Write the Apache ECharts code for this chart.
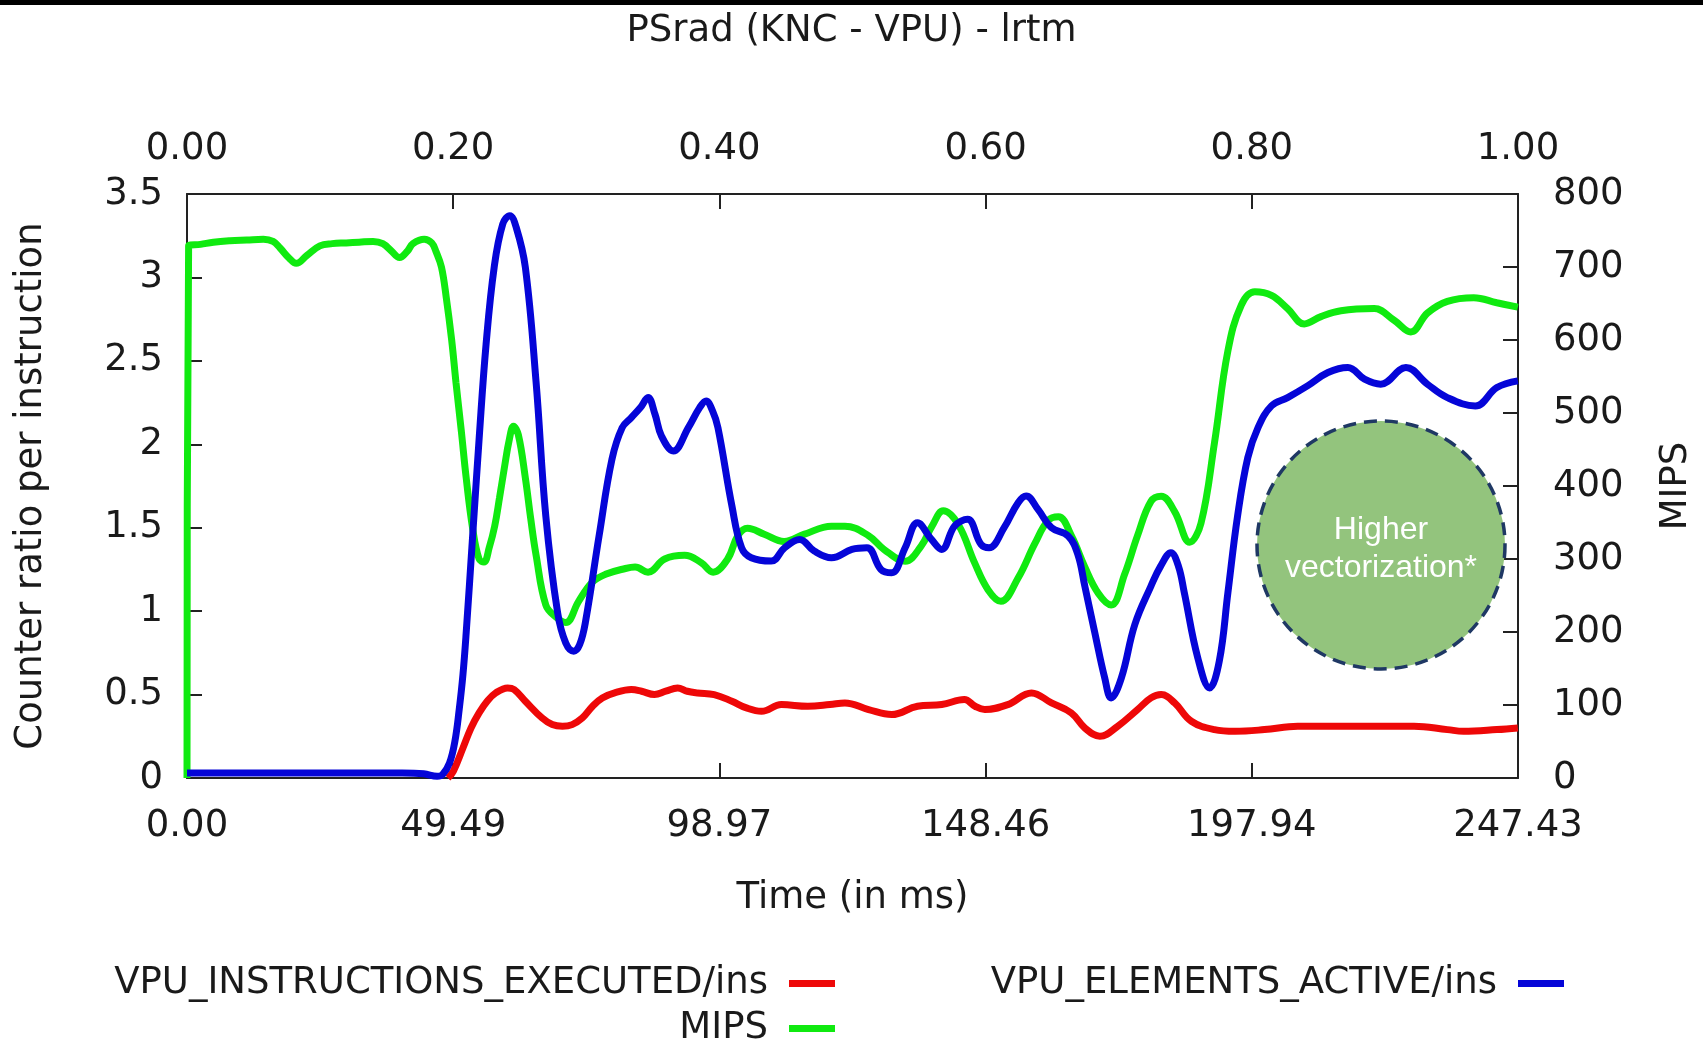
<!DOCTYPE html>
<html>
<head>
<meta charset="utf-8">
<script src="https://cdn.jsdelivr.net/npm/echarts@6/dist/echarts.min.js"></script>
<style>
html,body{margin:0;padding:0;background:#fff;}
#chart{width:1703px;height:1040px;}
</style>
</head>
<body>
<div id="chart"></div>
<script>
// ---- Data (time in ms, value) ----
const seriesNames = ['VPU_INSTRUCTIONS_EXECUTED/ins', 'MIPS', 'VPU_ELEMENTS_ACTIVE/ins'];

const vpuInstructionsExecuted = [
  [48.5,0],[49.5,0.04],[51.3,0.18],[52.8,0.3],[54.3,0.39],[55.8,0.46],[57.4,0.51],[59.6,0.54],[60.8,0.53],
  [62.9,0.46],[66,0.36],[67.9,0.32],[69.8,0.31],[71.6,0.32],[73.5,0.36],[75.4,0.43],[77.2,0.48],[79.5,0.51],
  [82.6,0.53],[84.5,0.52],[86.9,0.50],[89,0.52],[91.2,0.54],[93,0.52],[94.9,0.51],[98,0.50],[101.3,0.46],
  [104,0.42],[106.8,0.40],[110.5,0.44],[115.4,0.43],[119.5,0.44],[122.3,0.45],[126.7,0.41],[131,0.38],
  [135.8,0.43],[140.3,0.44],[144.5,0.47],[146.5,0.43],[148.3,0.41],[152.6,0.44],[157,0.51],[160.7,0.45],
  [164.4,0.39],[166.9,0.30],[169.7,0.25],[173,0.31],[176.7,0.41],[179.2,0.48],[181.1,0.50],[183.6,0.45],
  [186.7,0.34],[191,0.29],[194.8,0.28],[200.3,0.29],[206.5,0.31],[215.8,0.31],[228.1,0.31],[234.3,0.29],
  [237.3,0.28],[243.5,0.29],[247.4,0.30]
];

const mips = [
  [0,0],[0.3,729],[2.5,731],[4.9,734],[8,736],[11.1,737],[14.2,738],[16,735],[17.3,726],[19,712],[20.3,705],
  [22.3,716],[24.7,729],[27,732],[29.6,733],[32,734],[34.6,735],[36.4,732],[38,722],[39.5,713],[41,722],
  [42,732],[44.1,738],[45.5,733],[46.3,721],[47.3,700],[48.2,658],[49.2,600],[50,542],[51,475],[51.9,411],
  [53.1,342],[54.3,300],[55.2,296],[56.2,316],[57.2,345],[58.1,384],[59,425],[59.9,463],[60.7,482],[61.6,470],
  [62.9,411],[63.9,355],[64.9,305],[66.7,237],[68.5,221],[70.4,213],[72.8,242],[75.3,268],[77.8,279],
  [81.5,287],[83.3,289],[85.7,282],[88.8,300],[92.5,305],[95.6,295],[97.8,282],[100.5,300],[102.4,332],
  [104.2,342],[107.3,334],[111,324],[114.8,334],[119.8,345],[122.3,345],[126.7,332],[129.6,313],[133.5,297],
  [136.5,318],[138.5,345],[140.6,366],[143.4,347],[146.4,295],[148.9,258],[151.3,242],[154.5,274],[157.6,321],
  [160.1,353],[162,358],[164.4,332],[166.9,289],[169.4,253],[171.8,237],[174.3,279],[176.7,332],[179.2,379],
  [181.1,386],[183.6,365],[186.4,323],[188.5,349],[191,459],[193.5,585],[196,648],[198.5,666],[201.6,661],
  [204.6,643],[207.7,622],[210.8,632],[214.5,640],[220.7,643],[224.4,627],[227.5,611],[230.6,637],[234.3,653],
  [239.2,658],[243.5,651],[247.4,645]
];

const vpuElementsActive = [
  [0,0.03],[10,0.03],[20,0.03],[30,0.03],[40,0.03],[44,0.025],[46.5,0.01],[47.5,0.02],[48.8,0.09],[49.8,0.22],
  [50.6,0.41],[51.3,0.62],[51.9,0.87],[53.1,1.45],[54.3,2.03],[55.6,2.6],[57.1,3.06],[58.7,3.32],[60.0,3.37],
  [61.2,3.3],[62.9,3.06],[64.9,2.37],[66.7,1.57],[68.9,0.99],[70.4,0.81],[71.9,0.76],[73,0.8],[74.1,0.94],
  [76.6,1.45],[79,1.91],[80.9,2.1],[82.6,2.16],[84.3,2.22],[85.7,2.28],[87,2.18],[88.2,2.05],[90.4,1.96],
  [93.2,2.1],[95.3,2.22],[96.5,2.26],[97.7,2.2],[98.7,2.1],[101.3,1.63],[103.1,1.38],[104.9,1.32],[108.6,1.30],
  [111.1,1.38],[113.9,1.43],[116.6,1.36],[119.8,1.32],[123.6,1.37],[126.4,1.38],[129,1.25],[131,1.23],
  [133.5,1.38],[135.8,1.53],[138.4,1.43],[140.3,1.37],[142.7,1.51],[145.1,1.55],[147.6,1.40],[149.1,1.38],
  [151.9,1.50],[154.5,1.65],[156,1.69],[158.2,1.61],[160.7,1.50],[163.8,1.45],[165.6,1.34],[166.9,1.15],
  [168.7,0.88],[170.6,0.6],[171.8,0.48],[173.7,0.6],[176.2,0.92],[179.2,1.15],[181,1.27],[182.9,1.35],
  [184.3,1.27],[185.4,1.11],[187.9,0.72],[190.1,0.54],[191.9,0.7],[193.5,1.11],[195.3,1.57],[197.2,1.92],
  [199.1,2.1],[201.6,2.23],[204.6,2.28],[208.3,2.35],[212.1,2.43],[215.8,2.46],[218.9,2.39],[221.9,2.36],
  [226.6,2.46],[230.6,2.36],[234.3,2.28],[239.5,2.23],[243.5,2.34],[247.4,2.38]
];

// ---- Axis ticks ----
const timeTicks = [0, 49.49, 98.97, 148.46, 197.94, 247.43];
const fractionTicks = [0, 0.2, 0.4, 0.6, 0.8, 1.0];
const ratioTicks = [0, 0.5, 1, 1.5, 2, 2.5, 3, 3.5];
const mipsTicks = [0, 100, 200, 300, 400, 500, 600, 700, 800];

const FONT = 'DejaVu Sans';
const FS = 37;
const TXT = '#1a1a1a';
const colors = ['#ee0808', '#10ea10', '#0505d8'];

const chart = echarts.init(document.getElementById('chart'), null, {renderer: 'canvas'});

function axisLine() { return {show: true, onZero: false, lineStyle: {color: '#222', width: 2}}; }
function labelStyle(extra) { return Object.assign({color: TXT, fontFamily: FONT, fontSize: FS}, extra); }
function tickStyle(extra) {
  return Object.assign({show: true, inside: true, length: 15, lineStyle: {color: '#222', width: 2}}, extra || {});
}
const nameStyle = {color: TXT, fontFamily: FONT, fontSize: FS};

function legendFor(name, right, top) {
  return {
    data: [name], right: right, top: top, orient: 'horizontal', align: 'right',
    icon: 'rect', itemWidth: 46, itemHeight: 7, selectedMode: false,
    textStyle: {color: TXT, fontFamily: FONT, fontSize: FS, padding: [0, 16, 0, 0]}
  };
}

const option = {
  animation: false,
  backgroundColor: '#ffffff',
  title: {
    text: 'PSrad (KNC - VPU) - lrtm', left: 'center', top: 8,
    textStyle: {color: TXT, fontFamily: FONT, fontSize: FS, fontWeight: 'normal'}
  },
  grid: {left: 187, right: 180, top: 194, bottom: 262, containLabel: false},
  legend: [
    legendFor(seriesNames[0], 863, 960),
    legendFor(seriesNames[1], 863, 1005),
    legendFor(seriesNames[2], 134, 960)
  ],
  xAxis: [
    {
      type: 'value', position: 'bottom', min: timeTicks[0], max: timeTicks[timeTicks.length - 1],
      name: 'Time (in ms)', nameLocation: 'middle', nameGap: 102, nameTextStyle: nameStyle,
      axisLine: axisLine(),
      axisTick: tickStyle({customValues: timeTicks}),
      axisLabel: labelStyle({margin: 30, customValues: timeTicks, formatter: v => v.toFixed(2)}),
      splitLine: {show: false}
    },
    {
      type: 'value', position: 'top', min: fractionTicks[0], max: fractionTicks[fractionTicks.length - 1],
      interval: 0.2,
      axisLine: axisLine(),
      axisTick: tickStyle(),
      axisLabel: labelStyle({margin: 26, formatter: v => v.toFixed(2)}),
      splitLine: {show: false}
    }
  ],
  yAxis: [
    {
      type: 'value', position: 'left', min: ratioTicks[0], max: ratioTicks[ratioTicks.length - 1], interval: 0.5,
      name: 'Counter ratio per instruction', nameLocation: 'middle', nameGap: 137, nameTextStyle: nameStyle,
      axisLine: axisLine(), axisTick: tickStyle(),
      axisLabel: labelStyle({margin: 24}),
      splitLine: {show: false}
    },
    {
      type: 'value', position: 'right', min: mipsTicks[0], max: mipsTicks[mipsTicks.length - 1], interval: 100,
      name: 'MIPS', nameLocation: 'middle', nameGap: 140, nameTextStyle: nameStyle,
      axisLine: axisLine(), axisTick: tickStyle(),
      axisLabel: labelStyle({margin: 35}),
      splitLine: {show: false}
    }
  ],
  series: [
    {
      name: seriesNames[0], type: 'line', xAxisIndex: 0, yAxisIndex: 0, data: vpuInstructionsExecuted,
      smooth: 0.4, showSymbol: false, color: colors[0], lineStyle: {width: 7, color: colors[0]}, z: 3
    },
    {
      name: seriesNames[1], type: 'line', xAxisIndex: 0, yAxisIndex: 1, data: mips,
      smooth: 0.4, showSymbol: false, color: colors[1], lineStyle: {width: 7, color: colors[1]}, z: 4
    },
    {
      name: seriesNames[2], type: 'line', xAxisIndex: 0, yAxisIndex: 0, data: vpuElementsActive,
      smooth: 0.4, showSymbol: false, color: colors[2], lineStyle: {width: 7, color: colors[2]}, z: 5
    }
  ],
  graphic: [
    {type: 'rect', left: 0, top: 0, shape: {width: 1703, height: 5}, style: {fill: '#000'}, z: 100},
    {
      type: 'circle', shape: {cx: 1381, cy: 545, r: 124}, z: 50,
      style: {fill: '#93c47d', stroke: '#1f3864', lineWidth: 3.5, lineDash: [13, 8]}
    },
    {
      type: 'text', x: 1381, y: 549, z: 51,
      style: {text: 'Higher\nvectorization*', fill: '#ffffff', font: '32px "Liberation Sans", Arial, sans-serif',
        align: 'center', verticalAlign: 'middle', lineHeight: 38}
    }
  ]
};

chart.setOption(option);
</script>
</body>
</html>
